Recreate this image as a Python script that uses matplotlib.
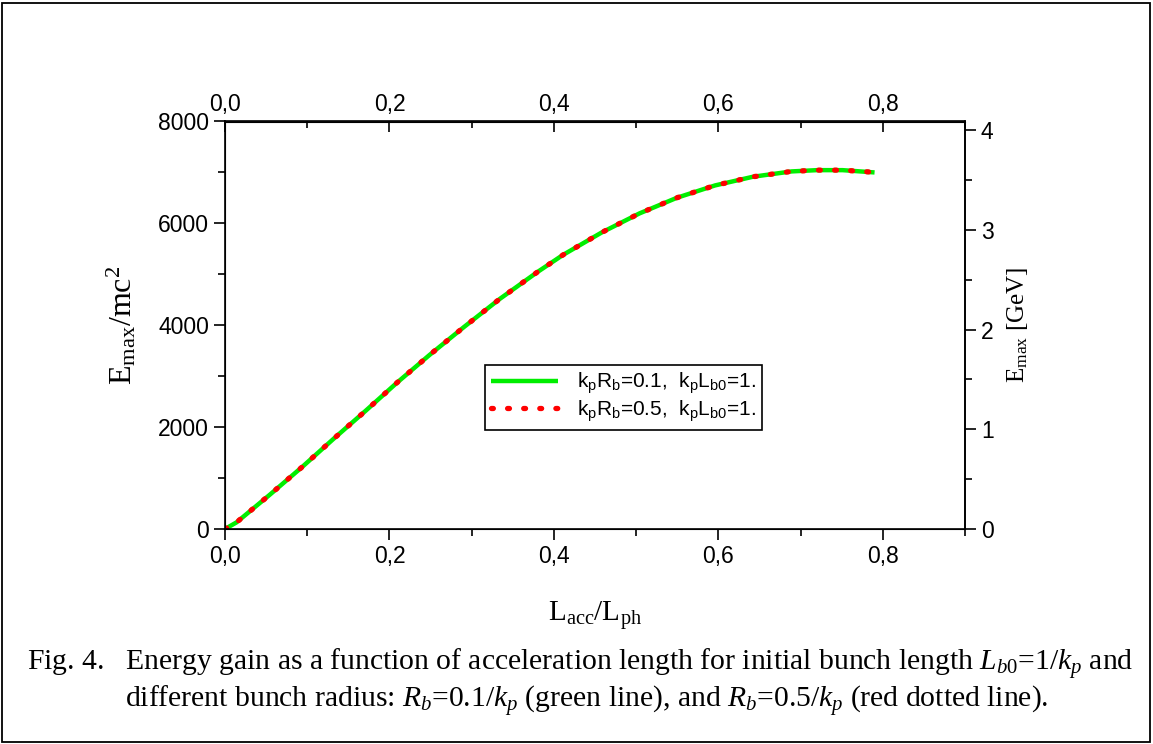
import matplotlib
matplotlib.use("Agg")
import matplotlib.pyplot as plt
from matplotlib.patches import Rectangle
from matplotlib.ticker import MultipleLocator, FuncFormatter

# values
l_ratio = [0, 0.014, 0.055, 0.094, 0.132, 0.171, 0.209, 0.249, 0.291, 0.334,
           0.380, 0.411, 0.458, 0.504, 0.550, 0.596, 0.642, 0.689, 0.720,
           0.751, 0.790]
e_green = [0, 130, 680, 1220, 1770, 2320, 2870, 3420, 3970, 4515, 5045,
           5380, 5820, 6195, 6505, 6745, 6915, 7020, 7045, 7045, 7000]
e_red = e_green[:-1] + [7010]
l_red = l_ratio[:-1] + [0.783]

leg_green = r"k$_{\mathsf{p}}$R$_{\mathsf{b}}$=0.1,  k$_{\mathsf{p}}$L$_{\mathsf{b0}}$=1."
leg_red = r"k$_{\mathsf{p}}$R$_{\mathsf{b}}$=0.5,  k$_{\mathsf{p}}$L$_{\mathsf{b0}}$=1."

plt.rcParams["font.family"] = "Liberation Sans"
plt.rcParams["mathtext.fontset"] = "custom"
plt.rcParams["mathtext.rm"] = "Liberation Serif"
plt.rcParams["mathtext.it"] = "Liberation Serif:italic"
plt.rcParams["mathtext.sf"] = "Liberation Sans"

W, H = 1153, 744
fig = plt.figure(figsize=(W / 100, H / 100), dpi=100)
ax = fig.add_axes([225 / W, 1 - 529 / H, 740 / W, 407.5 / H])

ax.plot(l_ratio, e_green, color="#00ee00", lw=3.2, solid_capstyle="butt",
        label=leg_green)
ax.plot(l_red, e_red, color="red", lw=3.8, dash_capstyle="round",
        linestyle=(0, (0.35, 2.7)), label=leg_red)

ax.set_xlim(0, 0.9)
ax.set_ylim(0, 8000)
comma = FuncFormatter(lambda v, p: f"{v:.1f}".replace(".", ","))
ax.xaxis.set_major_locator(MultipleLocator(0.2))
ax.xaxis.set_minor_locator(MultipleLocator(0.1))
ax.xaxis.set_major_formatter(comma)
ax.yaxis.set_major_locator(MultipleLocator(2000))
ax.yaxis.set_minor_locator(MultipleLocator(1000))
for s in ax.spines.values():
    s.set_linewidth(1.2)
ax.tick_params(which="major", length=8, width=1.2, labelsize=16.5, direction="out")
ax.tick_params(which="minor", length=5, width=1.2, direction="out")

top = ax.secondary_xaxis("top")
top.xaxis.set_major_locator(MultipleLocator(0.2))
top.xaxis.set_minor_locator(MultipleLocator(0.1))
top.xaxis.set_major_formatter(comma)
top.spines["top"].set_linewidth(1.2)
top.tick_params(which="major", length=8, width=1.2, labelsize=16.5, direction="in", pad=4)
top.tick_params(which="minor", length=5, width=1.2, direction="in")

rax = ax.twinx()
rax.set_ylim(0, 8000 * 0.000511)
rax.yaxis.set_major_locator(MultipleLocator(1))
rax.yaxis.set_minor_locator(MultipleLocator(0.5))
rax.spines["right"].set_linewidth(1.2)
rax.tick_params(which="major", length=8, width=1.2, labelsize=16.5, direction="out")
rax.tick_params(which="minor", length=5, width=1.2, direction="out")

ax.set_ylabel(r"E$_{\mathrm{max}}$/mc$^{\mathrm{2}}$", family="Liberation Serif",
              fontsize=23, labelpad=14)
ax.set_xlabel(r"L$_{\mathrm{acc}}$/L$_{\mathrm{ph}}$", family="Liberation Serif",
              fontsize=21, labelpad=22)
rax.set_ylabel(r"E$_{\mathrm{max}}$ [GeV]", family="Liberation Serif",
               fontsize=18, labelpad=8)

leg = ax.legend(loc="upper left", bbox_to_anchor=(485 / W, 1 - 365 / H),
                bbox_transform=fig.transFigure, borderaxespad=0, fancybox=False,
                edgecolor="black", framealpha=1, fontsize=15, handlelength=3.2,
                handletextpad=0.9, labelspacing=0.1, borderpad=0.3)
leg.get_frame().set_linewidth(1.2)

cap1 = (r"Fig. 4.   Energy gain as a function of acceleration length for initial "
        r"bunch length $L_{b0}$=1/$k_p$ and")
cap2 = (r"different bunch radius: $R_b$=0.1/$k_p$ (green line), and "
        r"$R_b$=0.5/$k_p$ (red dotted line).")
fig.text(27 / W, 1 - 665 / H, cap1, family="Liberation Serif", fontsize=21.3,
         va="center", ha="left")
fig.text(125 / W, 1 - 701 / H, cap2, family="Liberation Serif", fontsize=21.3,
         va="center", ha="left")

fig.add_artist(Rectangle((2 / W, 2 / H), (W - 5) / W, (H - 5) / H,
                         transform=fig.transFigure, fill=False, lw=1.3,
                         edgecolor="black"))

fig.savefig("out.png", dpi=100)
